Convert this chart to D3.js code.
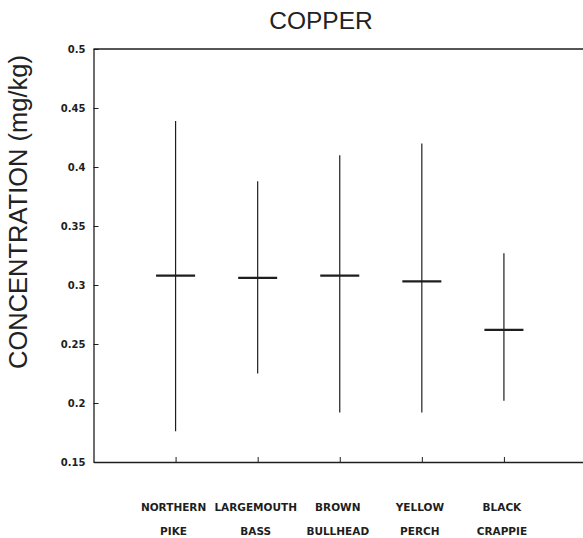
<!DOCTYPE html>
<html>
<head>
<meta charset="utf-8">
<script src="https://cdn.jsdelivr.net/npm/d3@7"></script>
<style>
  html, body { margin: 0; padding: 0; background: #fff; }
  svg { display: block; }
</style>
</head>
<body>
<svg id="chart" width="583" height="538"></svg>
<script>
const categories = ["NORTHERN PIKE", "LARGEMOUTH BASS", "BROWN BULLHEAD", "YELLOW PERCH", "BLACK CRAPPIE"];
const labelLine1 = ["NORTHERN", "LARGEMOUTH", "BROWN", "YELLOW", "BLACK"];
const labelLine2 = ["PIKE", "BASS", "BULLHEAD", "PERCH", "CRAPPIE"];
const meanValues = [0.308, 0.306, 0.308, 0.303, 0.262];
const highValues = [0.439, 0.388, 0.410, 0.420, 0.327];
const lowValues  = [0.176, 0.225, 0.192, 0.192, 0.202];
const yTicks = [0.15, 0.2, 0.25, 0.3, 0.35, 0.4, 0.45, 0.5];
const yTickLabels = ["0.15", "0.2", "0.25", "0.3", "0.35", "0.4", "0.45", "0.5"];

(function () {
const svg = d3.select("#chart");
const mLeft = 93.5, mRight = 586, mTop = 49, mBottom = 462;
const ink = "#1e1e1e";

const x = d3.scalePoint().domain(categories).range([mLeft, mRight]).padding(1);
const y = d3.scaleLinear().domain([0.15, 0.5]).range([mBottom, mTop]);

// frame top line
svg.append("line").attr("x1", mLeft).attr("x2", mRight).attr("y1", mTop).attr("y2", mTop)
  .attr("stroke", ink).attr("stroke-width", 1.4);

// y axis
const yAxis = d3.axisLeft(y).tickValues(yTicks).tickSizeInner(-5).tickSizeOuter(0)
  .tickPadding(8).tickFormat((d, i) => yTickLabels[i]);
const gy = svg.append("g").attr("transform", `translate(${mLeft},0)`).call(yAxis);
gy.select(".domain").attr("stroke", ink).attr("stroke-width", 1.3);
gy.selectAll(".tick line").attr("stroke", ink).attr("stroke-width", 1);
gy.selectAll(".tick text").attr("font-family", "DejaVu Sans").attr("font-weight", "bold")
  .attr("font-size", 10).attr("fill", ink);

// x axis
const xAxis = d3.axisBottom(x).tickSizeInner(-5).tickSizeOuter(0).tickFormat("");
const gx = svg.append("g").attr("transform", `translate(0,${mBottom})`).call(xAxis);
gx.select(".domain").attr("stroke", ink).attr("stroke-width", 1.4);
gx.selectAll(".tick line").attr("stroke", ink).attr("stroke-width", 1);

// category labels
const lab = svg.append("g").attr("font-family", "DejaVu Sans").attr("font-weight", "bold")
  .attr("font-size", 10.5).attr("fill", ink).attr("text-anchor", "middle");
lab.selectAll("text.l1").data(categories).enter().append("text").attr("class", "l1")
  .attr("x", d => x(d) - 2).attr("y", 511).text((d, i) => labelLine1[i]);
lab.selectAll("text.l2").data(categories).enter().append("text").attr("class", "l2")
  .attr("x", d => x(d) - 2).attr("y", 535).text((d, i) => labelLine2[i]);

// whiskers
svg.append("g").selectAll("line").data(categories).enter().append("line")
  .attr("x1", d => x(d)).attr("x2", d => x(d))
  .attr("y1", (d, i) => y(highValues[i])).attr("y2", (d, i) => y(lowValues[i]))
  .attr("stroke", ink).attr("stroke-width", 1.2);

// mean bars
svg.append("g").selectAll("line").data(categories).enter().append("line")
  .attr("x1", d => x(d) - 19.5).attr("x2", d => x(d) + 19.5)
  .attr("y1", (d, i) => y(meanValues[i])).attr("y2", (d, i) => y(meanValues[i]))
  .attr("stroke", ink).attr("stroke-width", 2.2);

// title
svg.append("text").attr("x", 321).attr("y", 28.5).attr("text-anchor", "middle")
  .attr("font-family", "Liberation Sans, Arial").attr("font-size", 24.5).attr("fill", "#222")
  .text("COPPER");

// y axis title
svg.append("text").attr("transform", "translate(27,212) rotate(-90)").attr("text-anchor", "middle")
  .attr("font-family", "Liberation Sans, Arial").attr("font-size", 25.5).attr("fill", "#222")
  .text("CONCENTRATION (mg/kg)");
})();
</script>
</body>
</html>
